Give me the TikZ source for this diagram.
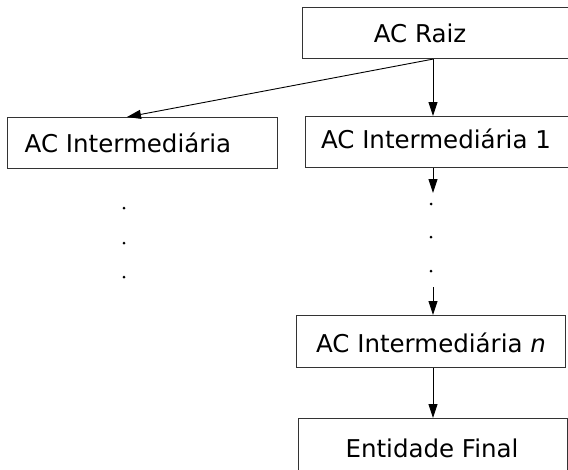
\documentclass[tikz,border=0pt]{standalone}
\usepackage{fontspec}
\setmainfont{DejaVu Sans}
\usetikzlibrary{arrows.meta}
\begin{document}
\begin{tikzpicture}[x=1pt,y=-1pt,
  box/.style={draw=black!80,line width=1.1pt,inner sep=0pt,anchor=north west},
  lbl/.style={anchor=base,inner sep=0pt,font=\fontsize{24.5}{29}\selectfont},
  link/.style={draw=black,line width=0.9pt,-{Triangle[length=14pt,width=9pt]}},
  dot/.style={circle,fill=black,inner sep=0pt,minimum size=3pt}]
\useasboundingbox (0,0) rectangle (568,469);
% boxes (the top two and the last one run past the edge of the page)
\node[box,minimum width=280pt,minimum height=51pt] (raiz) at (302,7) {};
\node[box,minimum width=270pt,minimum height=51pt] (inter) at (7,117) {};
\node[box,minimum width=280pt,minimum height=51pt] (inter1) at (305,116) {};
\node[box,minimum width=269pt,minimum height=52pt] (intern) at (296,315) {};
\node[box,minimum width=269pt,minimum height=70pt] (final) at (298,418) {};
% labels
\node[lbl] (traiz) at (420,42) {AC Raiz};
\node[lbl] (tinter) at (128,152) {AC Intermediária};
\node[lbl] (tinter1) at (436,148) {AC Intermediária 1};
\node[lbl] (tintern) at (431,352) {AC Intermediária \textit{n}};
\node[lbl] (tfinal) at (432,457) {Entidade Final};
% spine of the right-hand chain
\coordinate (spine) at (433,0);
\coordinate (gapA) at (433,193);
\coordinate (gapB) at (433,287);
% dots standing for the omitted levels
\node[dot] (l1) at (124,208) {};
\node[dot] (l2) at (124,243) {};
\node[dot] (l3) at (124,277) {};
\node[dot] (r1) at (431,204) {};
\node[dot] (r2) at (431,237) {};
\node[dot] (r3) at (431,271) {};
% connectors
\draw[link] (raiz.south -| spine) -- (inter.north west -| 127,0);
\draw[link] (raiz.south -| spine) -- (inter1.north -| spine);
\draw[link] (inter1.south -| spine) -- (gapA);
\draw[link] (gapB) -- (intern.north -| spine);
\draw[link] (intern.south -| spine) -- (final.north -| spine);
\end{tikzpicture}
\end{document}
